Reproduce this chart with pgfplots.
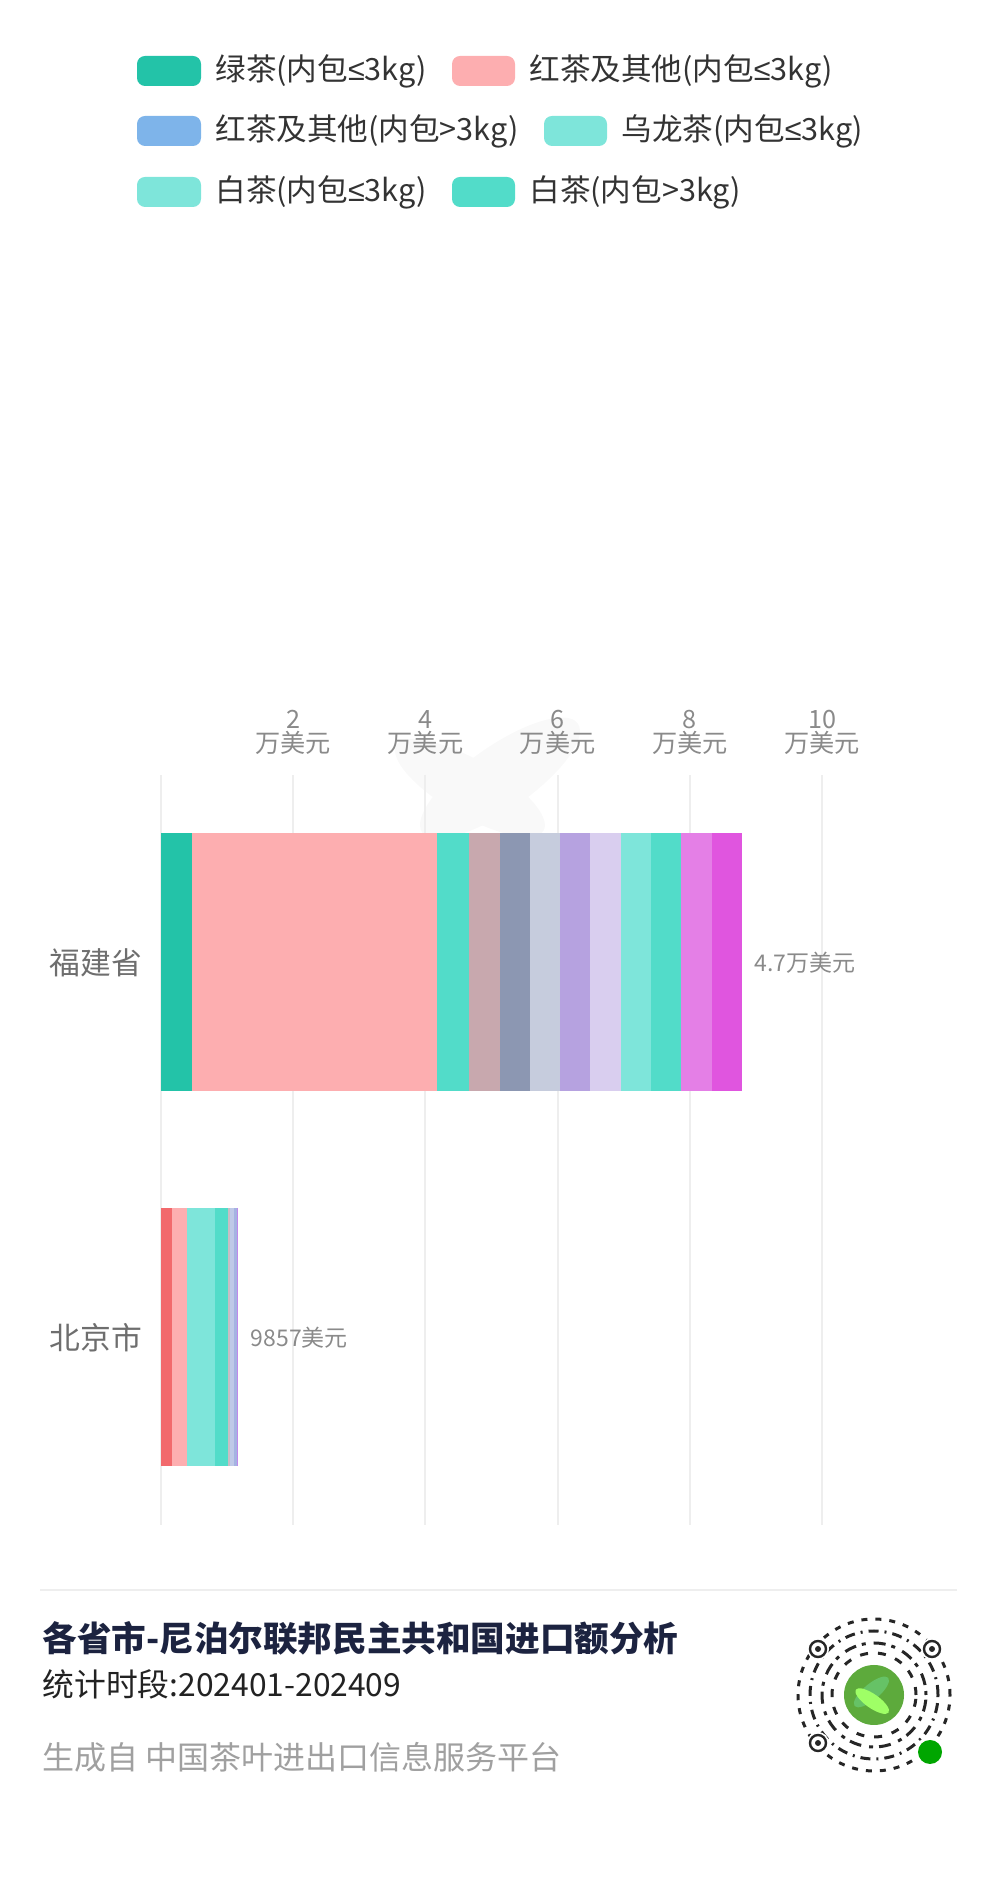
\documentclass[border=0pt]{standalone}
\usepackage{pgfplots}
\pgfplotsset{compat=1.18}
\usepackage{fontspec}
\setmainfont{Noto Sans CJK SC}
\newfontfamily\symfont{Liberation Sans}
\newcommand{\lesym}{{\symfont ≤}}
\definecolor{cGreen}{HTML}{23C3A8}
\definecolor{cPink}{HTML}{FDAEB0}
\definecolor{cTeal}{HTML}{52DCC9}
\definecolor{cMauve}{HTML}{C8A8AE}
\definecolor{cSlate}{HTML}{8C97B2}
\definecolor{cGrayBlue}{HTML}{C6CCDD}
\definecolor{cPurple}{HTML}{B6A2E0}
\definecolor{cLav}{HTML}{D9CEEF}
\definecolor{cLTeal}{HTML}{7EE5DA}
\definecolor{cOrchid}{HTML}{E47FE6}
\definecolor{cMagenta}{HTML}{E055DF}
\definecolor{cRed}{HTML}{F2696C}
\definecolor{cBlue}{HTML}{7EB4EA}
\definecolor{cBGray}{HTML}{C9BCC4}
\definecolor{cBLB}{HTML}{BFC9E8}
\definecolor{cBB}{HTML}{A5B3E2}
\definecolor{cBPur}{HTML}{C08AEA}
\definecolor{gridgray}{HTML}{EEEEEE}
\definecolor{tickgray}{HTML}{8A8A8A}
\definecolor{labgray}{HTML}{6E6E6E}
\definecolor{legtext}{HTML}{333333}
\definecolor{titlecol}{HTML}{1C2340}
\definecolor{subcol}{HTML}{222222}
\definecolor{foot}{HTML}{A0A0A0}
\definecolor{qrgreen}{HTML}{5DAA3C}
\begin{document}
\begin{tikzpicture}
\begin{scope}[x=0.5pt,y=0.5pt]
\path[use as bounding box] (0,0) rectangle (1000,1898);
% watermark
\fill[gray!5, rotate around={35:(500,1120)}] (500,1120) ellipse (95 and 32);
\fill[gray!5, rotate around={-30:(470,1110)}] (470,1110) ellipse (85 and 28);
% legend
\tikzset{sw/.style={fill=#1, rounded corners=4pt, draw=none}, lt/.style={anchor=west, inner sep=0pt, text=legtext, font=\fontsize{15.3}{15.3}\selectfont}}
\fill[sw=cGreen] (137,1812) rectangle (201,1842);
\node[lt] at (215,1827) {绿茶(内包\lesym3kg)};
\fill[sw=cPink] (452,1812) rectangle (515,1842);
\node[lt] at (529,1827) {红茶及其他(内包\lesym3kg)};
\fill[sw=cBlue] (137,1752) rectangle (201,1782);
\node[lt] at (215,1767) {红茶及其他(内包>3kg)};
\fill[sw=cLTeal] (544,1752) rectangle (607,1782);
\node[lt] at (621,1767) {乌龙茶(内包\lesym3kg)};
\fill[sw=cLTeal] (137,1691) rectangle (201,1721);
\node[lt] at (215,1706) {白茶(内包\lesym3kg)};
\fill[sw=cTeal] (452,1691) rectangle (515,1721);
\node[lt] at (529,1706) {白茶(内包>3kg)};
% footer
\draw[gridgray, line width=1pt] (40,308) -- (957,308);
\node[anchor=west, inner sep=0pt, text=titlecol, font=\fontsize{17.3}{17.3}\selectfont\bfseries] at (42,260) {各省市-尼泊尔联邦民主共和国进口额分析};
\node[anchor=west, inner sep=0pt, text=subcol, font=\fontsize{15.9}{15.9}\selectfont] at (42,214) {统计时段:202401-202409};
\node[anchor=west, inner sep=0pt, text=foot, font=\fontsize{16}{16}\selectfont] at (42,141) {生成自 中国茶叶进出口信息服务平台};
% QR-like mark
\begin{scope}[shift={(874,203)}]
\draw[black!85, line width=1.5pt, dash pattern=on 3pt off 4pt] (0,0) circle (76);
\draw[black!85, line width=1.5pt, dash pattern=on 5pt off 3pt on 1pt off 3pt] (0,0) circle (64);
\draw[black!85, line width=1.5pt, dash pattern=on 2pt off 3pt on 6pt off 4pt] (0,0) circle (52);
\draw[black!85, line width=1.5pt, dash pattern=on 4pt off 5pt] (0,0) circle (42);
\fill[white] (0,0) circle (34);
\fill[qrgreen] (0,0) circle (30);
\fill[green!60!black!60, rotate=40] (0,4) ellipse (22 and 8);
\fill[green!50!lime!60, rotate=-35] (2,-6) ellipse (20 and 7);
\foreach \p in {(-56,46),(58,46),(-56,-48)} {
  \fill[white] \p circle (11);
  \draw[black!85, line width=1.2pt] \p circle (8);
  \fill[black!85] \p circle (3);
}
\fill[white] (56,-57) circle (15);
\fill[green!65!black] (56,-57) circle (12);
\end{scope}
\end{scope}
\begin{axis}[
  at={(80.5pt,186.5pt)}, anchor=south west,
  scale only axis, width=330.5pt, height=375pt,
  xbar stacked, bar width=0.688,
  xmin=0, xmax=10, ymin=-0.5, ymax=1.5, y dir=reverse,
  ytick={0,1}, yticklabels={福建省,北京市},
  xtick={0,2,4,6,8,10},
  xticklabels={{},{2\\万美元},{4\\万美元},{6\\万美元},{8\\万美元},{10\\万美元}},
  xticklabel pos=upper,
  xticklabel style={align=center, font=\fontsize{12.6}{12.2}\selectfont, text=tickgray, yshift=6.5pt},
  yticklabel style={font=\fontsize{15.4}{15.4}\selectfont, text=labgray, xshift=-6pt},
  xmajorgrids, major grid style={draw=gridgray, line width=1pt},
  axis line style={draw=none}, major tick style={draw=none},
  clip=false,
]
% Fujian segments
\addplot[fill=cGreen, draw=none] coordinates {(0.462,0) (0,1)};
\addplot[fill=cPink, draw=none] coordinates {(3.707,0) (0,1)};
\addplot[fill=cTeal, draw=none] coordinates {(0.498,0) (0,1)};
\addplot[fill=cMauve, draw=none] coordinates {(0.462,0) (0,1)};
\addplot[fill=cSlate, draw=none] coordinates {(0.450,0) (0,1)};
\addplot[fill=cGrayBlue, draw=none] coordinates {(0.462,0) (0,1)};
\addplot[fill=cPurple, draw=none] coordinates {(0.456,0) (0,1)};
\addplot[fill=cLav, draw=none] coordinates {(0.462,0) (0,1)};
\addplot[fill=cLTeal, draw=none] coordinates {(0.456,0) (0,1)};
\addplot[fill=cTeal, draw=none] coordinates {(0.450,0) (0,1)};
\addplot[fill=cOrchid, draw=none] coordinates {(0.468,0) (0,1)};
\addplot[fill=cMagenta, draw=none] coordinates {(0.456,0) (0,1)};
% Beijing segments
\addplot[fill=cRed, draw=none] coordinates {(0,0) (0.165,1)};
\addplot[fill=cPink, draw=none] coordinates {(0,0) (0.222,1)};
\addplot[fill=cLTeal, draw=none] coordinates {(0,0) (0.428,1)};
\addplot[fill=cTeal, draw=none] coordinates {(0,0) (0.192,1)};
\addplot[fill=cBGray, draw=none] coordinates {(0,0) (0.035,1)};
\addplot[fill=cBLB, draw=none] coordinates {(0,0) (0.060,1)};
\addplot[fill=cBB, draw=none] coordinates {(0,0) (0.050,1)};
\addplot[fill=cBPur, draw=none] coordinates {(0,0) (0.020,1)};
% totals
\node[anchor=west, inner sep=0pt, xshift=6pt, text=tickgray, font=\fontsize{11.5}{11.5}\selectfont] at (axis cs:8.789,0) {4.7万美元};
\node[anchor=west, inner sep=0pt, xshift=6pt, text=tickgray, font=\fontsize{11.5}{11.5}\selectfont] at (axis cs:1.172,1) {9857美元};
\end{axis}
\end{tikzpicture}
\end{document}
